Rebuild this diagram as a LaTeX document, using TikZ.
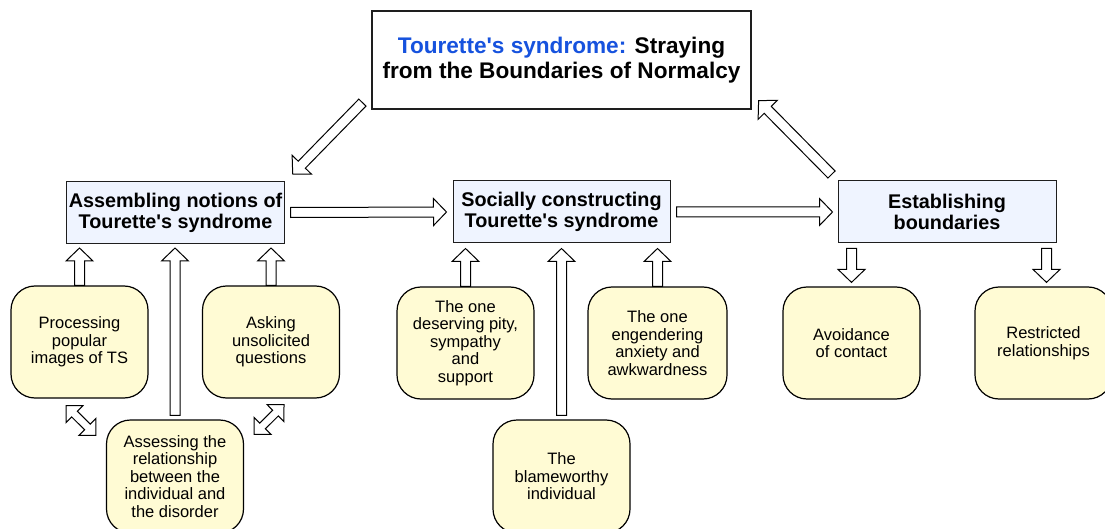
\documentclass[tikz,border=0pt]{standalone}
\usepackage{fontspec}
\setmainfont{Liberation Sans}
\usetikzlibrary{calc}

\definecolor{titleblue}{RGB}{22,82,222}
\definecolor{stagefill}{RGB}{239,244,255}
\definecolor{notefill}{RGB}{255,251,212}
\definecolor{edge}{RGB}{30,30,30}

\tikzset{
  every node/.style={inner sep=2pt, align=center},
  titlebox/.style={draw=edge, line width=1.2pt, fill=white,
    minimum width=379pt, minimum height=98pt,
    font=\fontsize{22.6}{25}\selectfont\bfseries},
  stagebox/.style={draw=edge, line width=1pt, fill=stagefill,
    minimum width=217pt, minimum height=62pt,
    font=\fontsize{19.8}{21}\selectfont\bfseries},
  notebox/.style={draw=black, line width=1.2pt, fill=notefill,
    rounded corners=24pt, minimum width=137pt, minimum height=112pt,
    font=\fontsize{16.5}{17.5}\selectfont},
  blockarrow/.style={draw=black, line width=1pt, fill=white, line join=miter},
}

% hollow block arrow from #1 (tail) to #2 (tip)
\newcommand\bigarrow[2]{%
  \path ($(#2)!13pt!(#1)$) coordinate (ba-base);
  \draw[blockarrow] ($(#1)!5pt!90:(#2)$)
    -- ($(ba-base)!5pt!-90:(#1)$) -- ($(ba-base)!13.5pt!-90:(#1)$)
    -- (#2)
    -- ($(ba-base)!13.5pt!90:(#1)$) -- ($(ba-base)!5pt!90:(#1)$)
    -- ($(#1)!5pt!-90:(#2)$) -- cycle;}

% hollow block arrow with a head at each end
\newcommand\bothwaysarrow[2]{%
  \path ($(#1)!12pt!(#2)$) coordinate (da-a) ($(#2)!12pt!(#1)$) coordinate (da-b);
  \draw[blockarrow] (#1)
    -- ($(da-a)!12pt!90:(#2)$) -- ($(da-a)!4pt!90:(#2)$)
    -- ($(da-b)!4pt!-90:(#1)$) -- ($(da-b)!12pt!-90:(#1)$)
    -- (#2)
    -- ($(da-b)!12pt!90:(#1)$) -- ($(da-b)!4pt!90:(#1)$)
    -- ($(da-a)!4pt!-90:(#2)$) -- ($(da-a)!12pt!-90:(#2)$)
    -- cycle;}

\begin{document}
\begin{tikzpicture}[x=1pt, y=-1pt]
  \useasboundingbox (0,0) rectangle (1105,529);
  \fill[white] (0,0) rectangle (1105,529);
  \clip (0,0) rectangle (1105,529);

  % core category
  \node[titlebox] (top) at (561.5,60)
    {{\color{titleblue}Tourette\textquotesingle s syndrome:} Straying\\from the Boundaries of Normalcy};

  % three stages
  \node[stagebox] (asm) at (175.5,212.5) {Assembling notions of\\Tourette\textquotesingle s syndrome};
  \node[stagebox] (soc) at (561.5,212) {Socially constructing\\Tourette\textquotesingle s syndrome};
  \node[stagebox, minimum width=218pt] (est) at (947,212) {Establishing\\boundaries};

  % sub-categories
  \node[notebox] (proc) at (79.5,342) {Processing\\popular\\images of TS};
  \node[notebox] (ask) at (271,342) {Asking\\unsolicited\\questions};
  \node[notebox, minimum height=113pt] (assess) at (175,476.5)
    {Assessing the\\relationship\\between the\\individual and\\the disorder};
  \node[notebox] (pity) at (465.5,343) {The one\\deserving pity,\\sympathy\\and\\support};
  \node[notebox, minimum width=139pt] (eng) at (657.5,343) {The one\\engendering\\anxiety and\\awkwardness};
  \node[notebox, minimum height=113pt] (blame) at (561.5,476.5) {The\\blameworthy\\individual};
  \node[notebox] (avoid) at (851.5,343) {Avoidance\\of contact};
  \node[notebox] (restr) at (1043.5,343) {Restricted\\relationships};

  % arrow end points
  \coordinate (p1t) at ($(asm.south -| proc.north)+(0,4)$);
  \coordinate (p2s) at ($(assess.north)+(0,-4)$);
  \coordinate (p2t) at ($(asm.south -| assess.north)+(0,4)$);
  \coordinate (p3t) at ($(asm.south -| ask.north)+(0,4)$);

  \coordinate (q1t) at ($(soc.south -| pity.north)+(0,5)$);
  \coordinate (q2s) at ($(blame.north)+(0,-4)$);
  \coordinate (q2t) at ($(soc.south -| blame.north)+(0,5)$);
  \coordinate (q3t) at ($(soc.south -| eng.north)+(0,5)$);

  \coordinate (r1s) at ($(est.south -| avoid.north)+(0,5)$);
  \coordinate (r1t) at ($(avoid.north)+(0,-4)$);
  \coordinate (r2s) at ($(est.south -| restr.north)+(3,5)$);
  \coordinate (r2t) at ($(restr.north)+(3,-4)$);

  \coordinate (h1s) at ($(asm.east)+(6,0)$);
  \coordinate (h1t) at ($(soc.west)+(-6,0)$);
  \coordinate (h2s) at ($(soc.east)+(6,0)$);
  \coordinate (h2t) at ($(est.west)+(-5,0)$);

  \coordinate (g1s) at ($(top.south west)+(-9,-7)$);
  \coordinate (g1t) at ($(asm.north east)+(8,-7)$);
  \coordinate (g2s) at ($(est.north west)+(-6,-6)$);
  \coordinate (g2t) at ($(top.south east)+(7,-9)$);

  \coordinate (x1a) at ($(proc.south)+(-13.5,7)$);
  \coordinate (x1b) at ($(assess.north west)+(-10,16)$);
  \coordinate (x2a) at ($(ask.south)+(13,6)$);
  \coordinate (x2b) at ($(assess.north east)+(10,15)$);

  % flow between the stages
  \bigarrow{g1s}{g1t}
  \bigarrow{h1s}{h1t}
  \bigarrow{h2s}{h2t}
  \bigarrow{g2s}{g2t}

  % sub-categories feeding the stages
  \bigarrow{proc.north}{p1t}
  \bigarrow{p2s}{p2t}
  \bigarrow{ask.north}{p3t}
  \bigarrow{pity.north}{q1t}
  \bigarrow{q2s}{q2t}
  \bigarrow{eng.north}{q3t}
  \bigarrow{r1s}{r1t}
  \bigarrow{r2s}{r2t}

  % links between sub-categories
  \bothwaysarrow{x1a}{x1b}
  \bothwaysarrow{x2a}{x2b}
\end{tikzpicture}
\end{document}
